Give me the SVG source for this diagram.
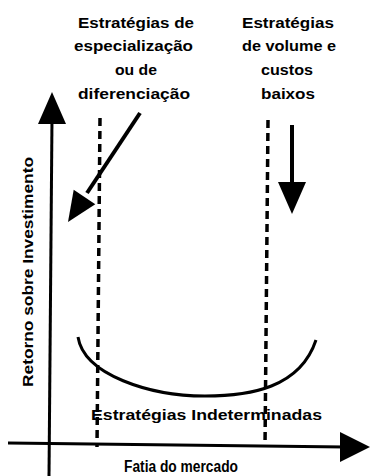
<svg xmlns="http://www.w3.org/2000/svg" width="370" height="476" viewBox="0 0 370 476">
<style>
text{font-family:"Liberation Sans",Arial,sans-serif;font-weight:bold;font-size:15px;fill:#000}
.big{font-size:16px}
.ax{stroke:#000;stroke-width:3;fill:none}
.dash{stroke:#000;stroke-width:3.5;fill:none;stroke-dasharray:8 5}
.sh{stroke:#000;stroke-width:4;fill:none}
.hd{fill:#000;stroke:none}
</style>
<rect width="370" height="476" fill="#fff"/>
<g id="connectors">
<line class="ax" x1="52" y1="118" x2="49" y2="476"/>
<polygon class="hd" points="52,92 38,124 66,124"/>
<line class="ax" x1="8" y1="443" x2="345" y2="447"/>
<polygon class="hd" points="370,447 340,432 340,462"/>
<line class="dash" x1="100" y1="118" x2="97" y2="447"/>
<line class="dash" x1="268" y1="120" x2="265" y2="447"/>
<line class="sh" x1="140" y1="113" x2="87" y2="193"/>
<polygon class="hd" points="68,222 73.7,189.8 95.3,204.2"/>
<line class="sh" x1="292" y1="125" x2="292" y2="186"/>
<polygon class="hd" points="278,182 306,182 292,214"/>
<path class="ax" d="M78,337 C84,375 150,396 205,396 C250,396 300,388 316,340"/>
</g>
<g id="label-especializacao">
<text x="78" y="28" textLength="116" lengthAdjust="spacingAndGlyphs">Estratégias de</text>
<text x="74" y="51" textLength="119" lengthAdjust="spacingAndGlyphs">especialização</text>
<text x="115" y="75" textLength="42" lengthAdjust="spacingAndGlyphs">ou de</text>
<text x="78" y="99" textLength="112" lengthAdjust="spacingAndGlyphs">diferenciação</text>
</g>
<g id="label-volume">
<text x="242" y="28" textLength="92" lengthAdjust="spacingAndGlyphs">Estratégias</text>
<text x="242" y="51" textLength="94" lengthAdjust="spacingAndGlyphs">de volume e</text>
<text x="261" y="75" textLength="52" lengthAdjust="spacingAndGlyphs">custos</text>
<text x="261" y="99" textLength="54" lengthAdjust="spacingAndGlyphs">baixos</text>
</g>
<g id="label-indeterminadas">
<text x="91" y="420" textLength="231" lengthAdjust="spacingAndGlyphs">Estratégias Indeterminadas</text>
</g>
<g id="label-x-axis">
<text class="big" x="124" y="472" textLength="114" lengthAdjust="spacingAndGlyphs">Fatia do mercado</text>
</g>
<g id="label-y-axis">
<text x="0" y="0" transform="translate(33,387) rotate(-90)" textLength="230" lengthAdjust="spacingAndGlyphs">Retorno sobre Investimento</text>
</g>
</svg>
